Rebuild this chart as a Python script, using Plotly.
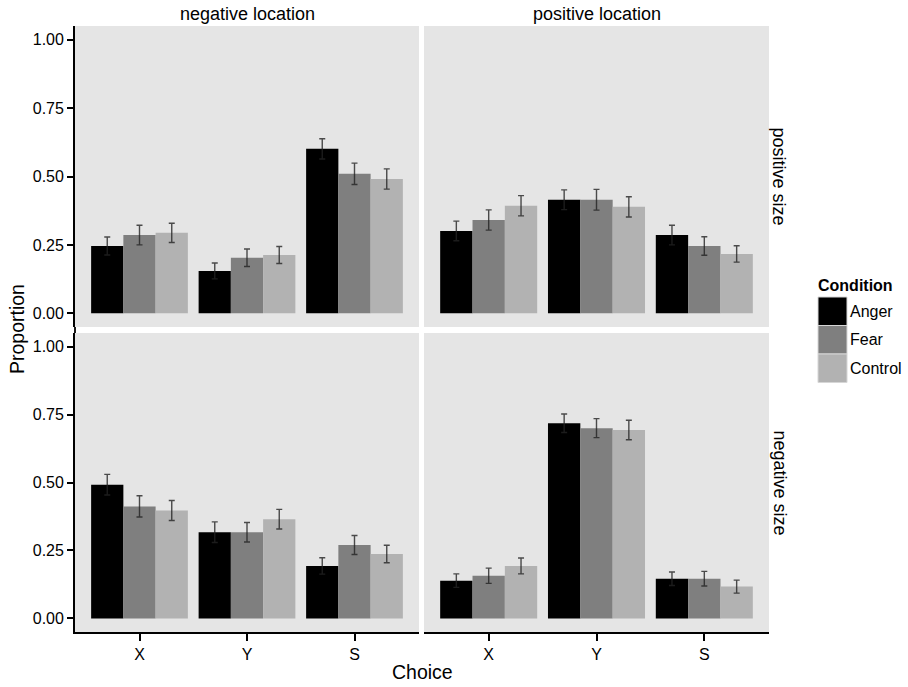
import plotly.graph_objects as go

W, H = 908, 687

choices = ["X", "Y", "S"]
conditions = ["Anger", "Fear", "Control"]
colors = ["#000000", "#7F7F7F", "#B2B2B2"]
locations = ["negative location", "positive location"]
sizes = ["positive size", "negative size"]

# proportion values per facet (size x location), per condition, over choices X, Y, S
pos_size_neg_loc = {
    "Anger":   [0.246, 0.155, 0.601],
    "Fear":    [0.286, 0.203, 0.510],
    "Control": [0.294, 0.213, 0.491],
}
pos_size_neg_loc_se = {
    "Anger":   [0.033, 0.029, 0.037],
    "Fear":    [0.036, 0.032, 0.039],
    "Control": [0.035, 0.031, 0.037],
}
pos_size_pos_loc = {
    "Anger":   [0.301, 0.415, 0.286],
    "Fear":    [0.341, 0.415, 0.246],
    "Control": [0.393, 0.389, 0.217],
}
pos_size_pos_loc_se = {
    "Anger":   [0.036, 0.036, 0.036],
    "Fear":    [0.037, 0.038, 0.034],
    "Control": [0.037, 0.037, 0.030],
}
neg_size_neg_loc = {
    "Anger":   [0.492, 0.317, 0.193],
    "Fear":    [0.412, 0.317, 0.270],
    "Control": [0.397, 0.365, 0.237],
}
neg_size_neg_loc_se = {
    "Anger":   [0.038, 0.038, 0.030],
    "Fear":    [0.039, 0.036, 0.035],
    "Control": [0.037, 0.036, 0.032],
}
neg_size_pos_loc = {
    "Anger":   [0.139, 0.718, 0.146],
    "Fear":    [0.157, 0.700, 0.146],
    "Control": [0.193, 0.693, 0.117],
}
neg_size_pos_loc_se = {
    "Anger":   [0.025, 0.034, 0.025],
    "Fear":    [0.028, 0.035, 0.027],
    "Control": [0.029, 0.036, 0.024],
}

y_ticks = [0, 0.25, 0.5, 0.75, 1.0]
y_tick_labels = ["0.00", "0.25", "0.50", "0.75", "1.00"]

panels = [
    # (axis suffix, data, se, row, col)
    ("", pos_size_neg_loc, pos_size_neg_loc_se, 0, 0),
    ("2", pos_size_pos_loc, pos_size_pos_loc_se, 0, 1),
    ("3", neg_size_neg_loc, neg_size_neg_loc_se, 1, 0),
    ("4", neg_size_pos_loc, neg_size_pos_loc_se, 1, 1),
]

# panel pixel boxes
col_px = [(75, 419), (424, 769)]
row_px = [(26, 327), (333, 632)]
xdom = [[a / W, b / W] for a, b in col_px]
ydom = [[1 - b / H, 1 - a / H] for a, b in row_px]

FONT = "Liberation Sans, Arial, Helvetica, sans-serif"
fig = go.Figure()

for suf, data, se, r, c in panels:
    for cond, col in zip(conditions, colors):
        fig.add_trace(go.Bar(
            x=choices, y=data[cond],
            marker=dict(color=col, line=dict(width=0)),
            error_y=dict(type="data", array=se[cond], color="rgba(35,35,35,0.8)",
                         thickness=1.4, width=3),
            name=cond, showlegend=False,
            xaxis="x" + suf, yaxis="y" + suf,
        ))

layout = dict(
    width=W, height=H,
    margin=dict(l=0, r=0, t=0, b=0),
    paper_bgcolor="white", plot_bgcolor="#E5E5E5",
    barmode="group", bargap=0.1, bargroupgap=0,
    font=dict(family=FONT, size=16, color="black"),
    showlegend=False,
)

for suf, data, se, r, c in panels:
    xa = dict(
        domain=xdom[c], anchor="y" + suf, type="category",
        categoryorder="array", categoryarray=choices,
        range=[-0.6, 2.6], showgrid=False, zeroline=False,
        fixedrange=True,
    )
    if r == 1:
        xa.update(showline=True, linecolor="black", linewidth=1.8,
                  ticks="outside", ticklen=7, tickwidth=1.8, tickcolor="black",
                  showticklabels=True, tickfont=dict(size=16, color="black"))
    else:
        xa.update(showline=False, ticks="", showticklabels=False)
    ya = dict(
        domain=ydom[r], anchor="x" + suf, range=[-0.05, 1.05],
        showgrid=False, zeroline=False, fixedrange=True,
        tickvals=y_ticks, ticktext=y_tick_labels,
    )
    if c == 0:
        ya.update(showline=True, linecolor="black", linewidth=1.8,
                  ticks="outside", ticklen=6, tickwidth=1.8, tickcolor="black",
                  showticklabels=True, tickfont=dict(size=16, color="black"))
    else:
        ya.update(showline=False, ticks="", showticklabels=False)
    layout["xaxis" + suf] = xa
    layout["yaxis" + suf] = ya

fig.update_layout(**layout)

annotations = []
# column strip labels
for (a, b), lab in zip(col_px, locations):
    annotations.append(dict(text=lab, x=(a + b) / 2 / W, y=1 - 14 / H,
                            xref="paper", yref="paper", showarrow=False,
                            font=dict(size=18, color="black"),
                            xanchor="center", yanchor="middle"))
# row strip labels
for (a, b), lab in zip(row_px, sizes):
    annotations.append(dict(text=lab, x=779 / W, y=1 - (a + b) / 2 / H,
                            xref="paper", yref="paper", showarrow=False,
                            textangle=90, font=dict(size=18, color="black"),
                            xanchor="center", yanchor="middle"))
# axis titles
annotations.append(dict(text="Proportion", x=17 / W, y=1 - 329 / H,
                        xref="paper", yref="paper", showarrow=False, textangle=-90,
                        font=dict(size=19.5, color="black"),
                        xanchor="center", yanchor="middle"))
annotations.append(dict(text="Choice", x=422 / W, y=1 - 672 / H,
                        xref="paper", yref="paper", showarrow=False,
                        font=dict(size=19.5, color="black"),
                        xanchor="center", yanchor="middle"))
# legend
annotations.append(dict(text="<b>Condition</b>", x=816 / W, y=1 - 285 / H,
                        xref="paper", yref="paper", showarrow=False,
                        font=dict(size=16, color="black"),
                        xanchor="left", yanchor="middle"))
shapes = []
key_top, key_h, key_x0, key_x1 = 297, 28.5, 818, 847
for i, (cond, col) in enumerate(zip(conditions, colors)):
    y0 = key_top + i * key_h
    shapes.append(dict(type="rect", xref="paper", yref="paper",
                       x0=key_x0 / W, x1=key_x1 / W,
                       y0=1 - (y0 + key_h) / H, y1=1 - y0 / H,
                       fillcolor=col, line=dict(color="#D6D6D6", width=1)))
    annotations.append(dict(text=cond, x=(key_x1 + 1) / W, y=1 - (y0 + key_h / 2) / H,
                            xref="paper", yref="paper", showarrow=False,
                            font=dict(size=16, color="black"),
                            xanchor="left", yanchor="middle"))
# continuous left axis line across the row gap
shapes.append(dict(type="line", xref="paper", yref="paper",
                   x0=xdom[0][0], x1=xdom[0][0], y0=ydom[1][1], y1=ydom[0][0],
                   line=dict(color="black", width=1.8)))

fig.update_layout(annotations=annotations, shapes=shapes)
fig.write_html("out.html", config={"displayModeBar": False},
               post_script="document.body.style.margin='0';document.body.style.overflow='hidden';")
